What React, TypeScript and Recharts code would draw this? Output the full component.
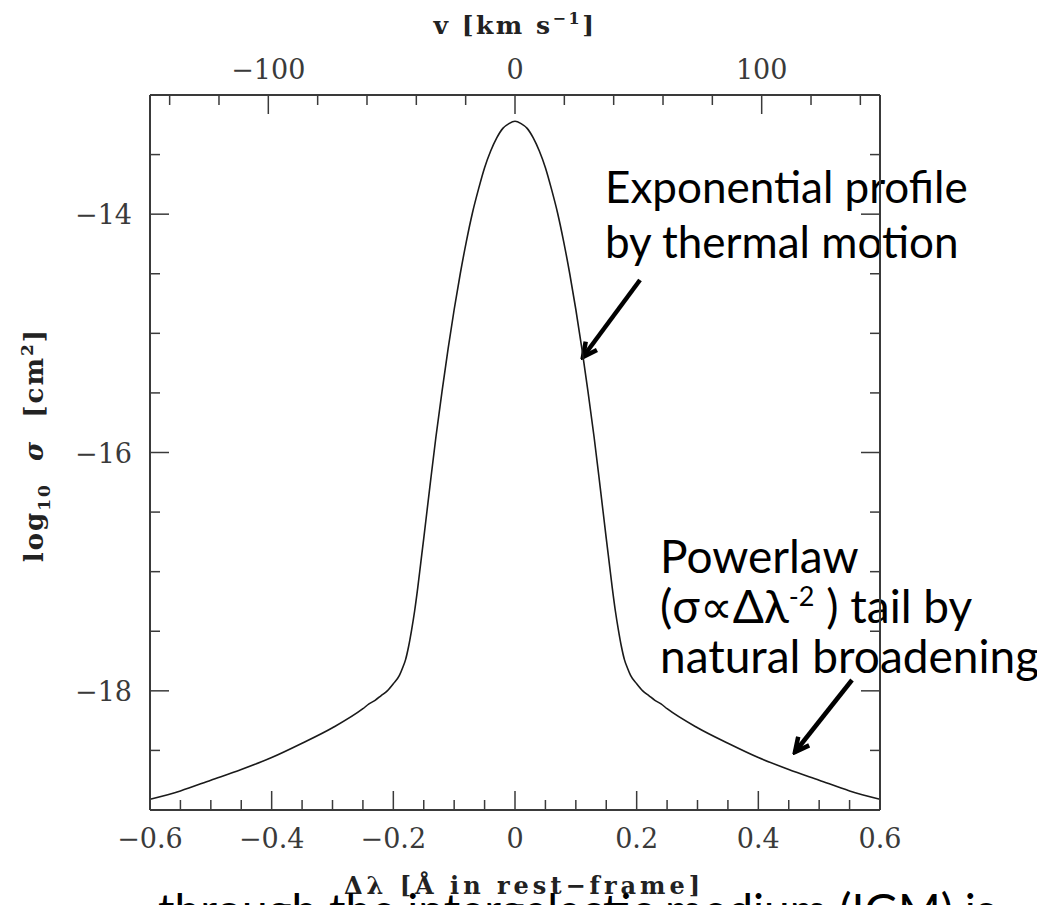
import React from "react";
import {
  LineChart,
  Line,
  XAxis,
  YAxis,
  Customized,
} from "recharts";

// wavelength offset from line centre [Angstrom]
const dLambda = [
  -0.6, -0.55, -0.5, -0.45, -0.4, -0.35, -0.3, -0.25, -0.24, -0.23, -0.22, -0.21,
  -0.2, -0.19, -0.185, -0.18, -0.175, -0.17, -0.165, -0.16, -0.155, -0.15, -0.14,
  -0.13, -0.12, -0.11, -0.1, -0.09, -0.08, -0.07, -0.06, -0.05, -0.04, -0.03, -0.02,
  -0.01, 0, 0.01, 0.02, 0.03, 0.04, 0.05, 0.06, 0.07, 0.08, 0.09, 0.1, 0.11, 0.12,
  0.13, 0.14, 0.15, 0.155, 0.16, 0.165, 0.17, 0.175, 0.18, 0.185, 0.19, 0.2, 0.21,
  0.22, 0.23, 0.24, 0.25, 0.3, 0.35, 0.4, 0.45, 0.5, 0.55, 0.6,
];

// log10 cross section [cm^2]
const logSigma = [
  -18.91, -18.84, -18.75, -18.66, -18.56, -18.44, -18.31, -18.15, -18.11, -18.08, -18.04, -18.0,
  -17.94, -17.87, -17.81, -17.74, -17.63, -17.49, -17.33, -17.14, -16.93, -16.72, -16.29,
  -15.87, -15.49, -15.13, -14.8, -14.5, -14.23, -13.99, -13.79, -13.61, -13.47, -13.36, -13.28,
  -13.24, -13.22, -13.24, -13.28, -13.36, -13.47, -13.61, -13.79, -13.99, -14.23, -14.5, -14.8, -15.13, -15.49,
  -15.87, -16.29, -16.72, -16.93, -17.14, -17.33, -17.49, -17.63, -17.74, -17.81, -17.87, -17.94, -18.0,
  -18.04, -18.08, -18.11, -18.15, -18.31, -18.44, -18.56, -18.66, -18.75, -18.84, -18.91,
];

const dLambdaTicks = [
  -0.6, -0.55, -0.5, -0.45, -0.4, -0.35, -0.3, -0.25, -0.2, -0.15, -0.1, -0.05, 0,
  0.05, 0.1, 0.15, 0.2, 0.25, 0.3, 0.35, 0.4, 0.45, 0.5, 0.55, 0.6,
];
const velocityTicks = [-140, -120, -100, -80, -60, -40, -20, 0, 20, 40, 60, 80, 100, 120, 140];
const logSigmaTicks = [-19, -18.5, -18, -17.5, -17, -16.5, -16, -15.5, -15, -14.5, -14, -13.5, -13];

const LYA_REST = 1215.67; // Angstrom
const C_KMS = 299792.458;
const V_EDGE = (0.6 / LYA_REST) * C_KMS;

// velocity is just the same offset in km/s, used by the top axis
const data = dLambda.map((dl, i) => ({
  dl,
  v: (dl / LYA_REST) * C_KMS,
  logSigma: logSigma[i],
}));

const SERIF = "'DejaVu Serif', serif";
const SANS = "Lato, 'Open Sans', sans-serif";
const AXIS = "#3a3a3a";
const LABEL = "#3a3a3a";
const MAJOR = 19;
const MINOR = 10;

const onStep = (v: number, step: number) => Math.abs(v / step - Math.round(v / step)) < 1e-6;
const fmt = (v: number) => {
  if (Math.abs(v) < 1e-9) return "0";
  const s = String(Math.abs(v));
  return v < 0 ? "\u2212" + s : s;
};

function BottomTick(props: any) {
  const { x, y, payload } = props;
  const v = payload.value;
  const major = onStep(v, 0.2);
  return (
    <g>
      <line x1={x} y1={y} x2={x} y2={y - (major ? MAJOR : MINOR)} stroke={AXIS} strokeWidth={1.5} />
      {major && (
        <text x={x} y={y + 38} textAnchor="middle" fontFamily={SERIF} fontSize={27} fill={LABEL}>
          {fmt(v)}
        </text>
      )}
    </g>
  );
}

function TopTick(props: any) {
  const { x, y, payload } = props;
  const v = payload.value;
  const major = onStep(v, 100);
  return (
    <g>
      <line x1={x} y1={y} x2={x} y2={y + (major ? MAJOR : MINOR)} stroke={AXIS} strokeWidth={1.5} />
      {major && (
        <text x={x} y={y - 16} textAnchor="middle" fontFamily={SERIF} fontSize={27} fill={LABEL}>
          {fmt(v)}
        </text>
      )}
    </g>
  );
}

function LeftTick(props: any) {
  const { x, y, payload } = props;
  const v = payload.value;
  const major = onStep(v, 2);
  return (
    <g>
      <line x1={x} y1={y} x2={x + (major ? MAJOR : MINOR)} y2={y} stroke={AXIS} strokeWidth={1.5} />
      {major && v > -19 && v < -13 && (
        <text x={x - 18} y={y + 10} textAnchor="end" fontFamily={SERIF} fontSize={27} fill={LABEL}>
          {fmt(v)}
        </text>
      )}
    </g>
  );
}

function RightTick(props: any) {
  const { x, y, payload } = props;
  const major = onStep(payload.value, 2);
  return <line x1={x} y1={y} x2={x - (major ? MAJOR : MINOR)} y2={y} stroke={AXIS} strokeWidth={1.5} />;
}

function Annotations() {
  return (
    <g>
      <defs>
        <marker
          id="head"
          viewBox="0 0 20 18"
          refX={17}
          refY={9}
          markerWidth={20}
          markerHeight={18}
          markerUnits="userSpaceOnUse"
          orient="auto"
        >
          <path d="M3,2 L17,9 L3,16" fill="none" stroke="#000" strokeWidth={4.5} strokeLinejoin="miter" />
        </marker>
      </defs>

      {/* axis titles */}
      <text
        x={507}
        y={26}
        textAnchor="middle"
        fontFamily={SERIF}
        fontWeight="bold"
        fontSize={25}
        letterSpacing={2.5}
        fill="#222"
        style={{ whiteSpace: "pre" }}
      >
        {"v [km s"}
        <tspan dy={-10} fontSize={16}>−1</tspan>
        <tspan dy={10}>]</tspan>
      </text>
      <text
        transform="translate(35,437) rotate(-90)"
        textAnchor="middle"
        fontFamily={SERIF}
        fontWeight="bold"
        fontSize={26}
        letterSpacing={2}
        fill="#222"
        style={{ whiteSpace: "pre" }}
      >
        log<tspan dy={7} fontSize={17}>10</tspan>
        <tspan dy={-7}>{"  "}</tspan>
        <tspan fontStyle="italic">σ</tspan>
        <tspan>{"  [cm"}</tspan>
        <tspan dy={-10} fontSize={17}>2</tspan>
        <tspan dy={10}>]</tspan>
      </text>
      <text
        x={516}
        y={886}
        textAnchor="middle"
        fontFamily={SERIF}
        fontWeight="bold"
        fontSize={24}
        letterSpacing={4}
        fill="#222"
        style={{ whiteSpace: "pre" }}
      >
        {"Δλ [Å in rest−frame]"}
      </text>

      {/* slide text overlapping the bottom */}
      <text x={150} y={919} fontFamily={SANS} fontSize={46} fill="#000">
        through the intergalactic medium (IGM) is
      </text>

      {/* annotations */}
      <text fontFamily={SANS} fontSize={44} fill="#000">
        <tspan x={597} y={195}>Exponential profile</tspan>
        <tspan x={597} y={250}>by thermal motion</tspan>
      </text>
      <line x1={632} y1={272} x2={575} y2={349} stroke="#000" strokeWidth={4.5} markerEnd="url(#head)" />

      <text fontFamily={SANS} fontSize={46} fill="#000">
        <tspan x={652} y={565}>Powerlaw</tspan>
        <tspan x={652} y={615}>
          (σ∝Δλ<tspan dy={-17} fontSize={27}>-2</tspan>
          <tspan dy={17}> ) tail by</tspan>
        </tspan>
        <tspan x={652} y={665}>natural broadening</tspan>
      </text>
      <line x1={844} y1={672} x2={787} y2={744} stroke="#000" strokeWidth={4.5} markerEnd="url(#head)" />
    </g>
  );
}

export default function App() {
  return (
    <div style={{ width: 1037, height: 897, overflow: "hidden" }}>
      <style>{"body{overflow:hidden}"}</style>
      <LineChart width={1037} height={897} data={data} margin={{ top: 0, right: 0, bottom: 0, left: 0 }}>
        <XAxis
          xAxisId="bottom"
          dataKey="dl"
          type="number"
          domain={[-0.6, 0.6]}
          allowDataOverflow
          ticks={dLambdaTicks}
          interval={0}
          height={95}
          tickSize={0}
          tickMargin={0}
          tickLine={false}
          tick={<BottomTick />}
          axisLine={{ stroke: AXIS, strokeWidth: 2 }}
        />
        <XAxis
          xAxisId="top"
          orientation="top"
          dataKey="v"
          type="number"
          domain={[-V_EDGE, V_EDGE]}
          allowDataOverflow
          ticks={velocityTicks}
          interval={0}
          height={87}
          tickSize={0}
          tickMargin={0}
          tickLine={false}
          tick={<TopTick />}
          axisLine={{ stroke: AXIS, strokeWidth: 2 }}
        />
        <YAxis
          yAxisId="left"
          type="number"
          domain={[-19, -13]}
          allowDataOverflow
          ticks={logSigmaTicks}
          interval={0}
          width={142}
          tickSize={0}
          tickMargin={0}
          tickLine={false}
          tick={<LeftTick />}
          axisLine={{ stroke: AXIS, strokeWidth: 2 }}
        />
        <YAxis
          yAxisId="right"
          orientation="right"
          dataKey="logSigma"
          type="number"
          domain={[-19, -13]}
          allowDataOverflow
          ticks={logSigmaTicks}
          interval={0}
          width={165}
          tickSize={0}
          tickMargin={0}
          tickLine={false}
          tick={<RightTick />}
          axisLine={{ stroke: AXIS, strokeWidth: 2 }}
        />
        <Line
          xAxisId="bottom"
          yAxisId="left"
          dataKey="logSigma"
          type="monotone"
          dot={false}
          stroke="#1a1a1a"
          strokeWidth={1.6}
          isAnimationActive={false}
        />
        <Customized component={<Annotations />} />
      </LineChart>
    </div>
  );
}
